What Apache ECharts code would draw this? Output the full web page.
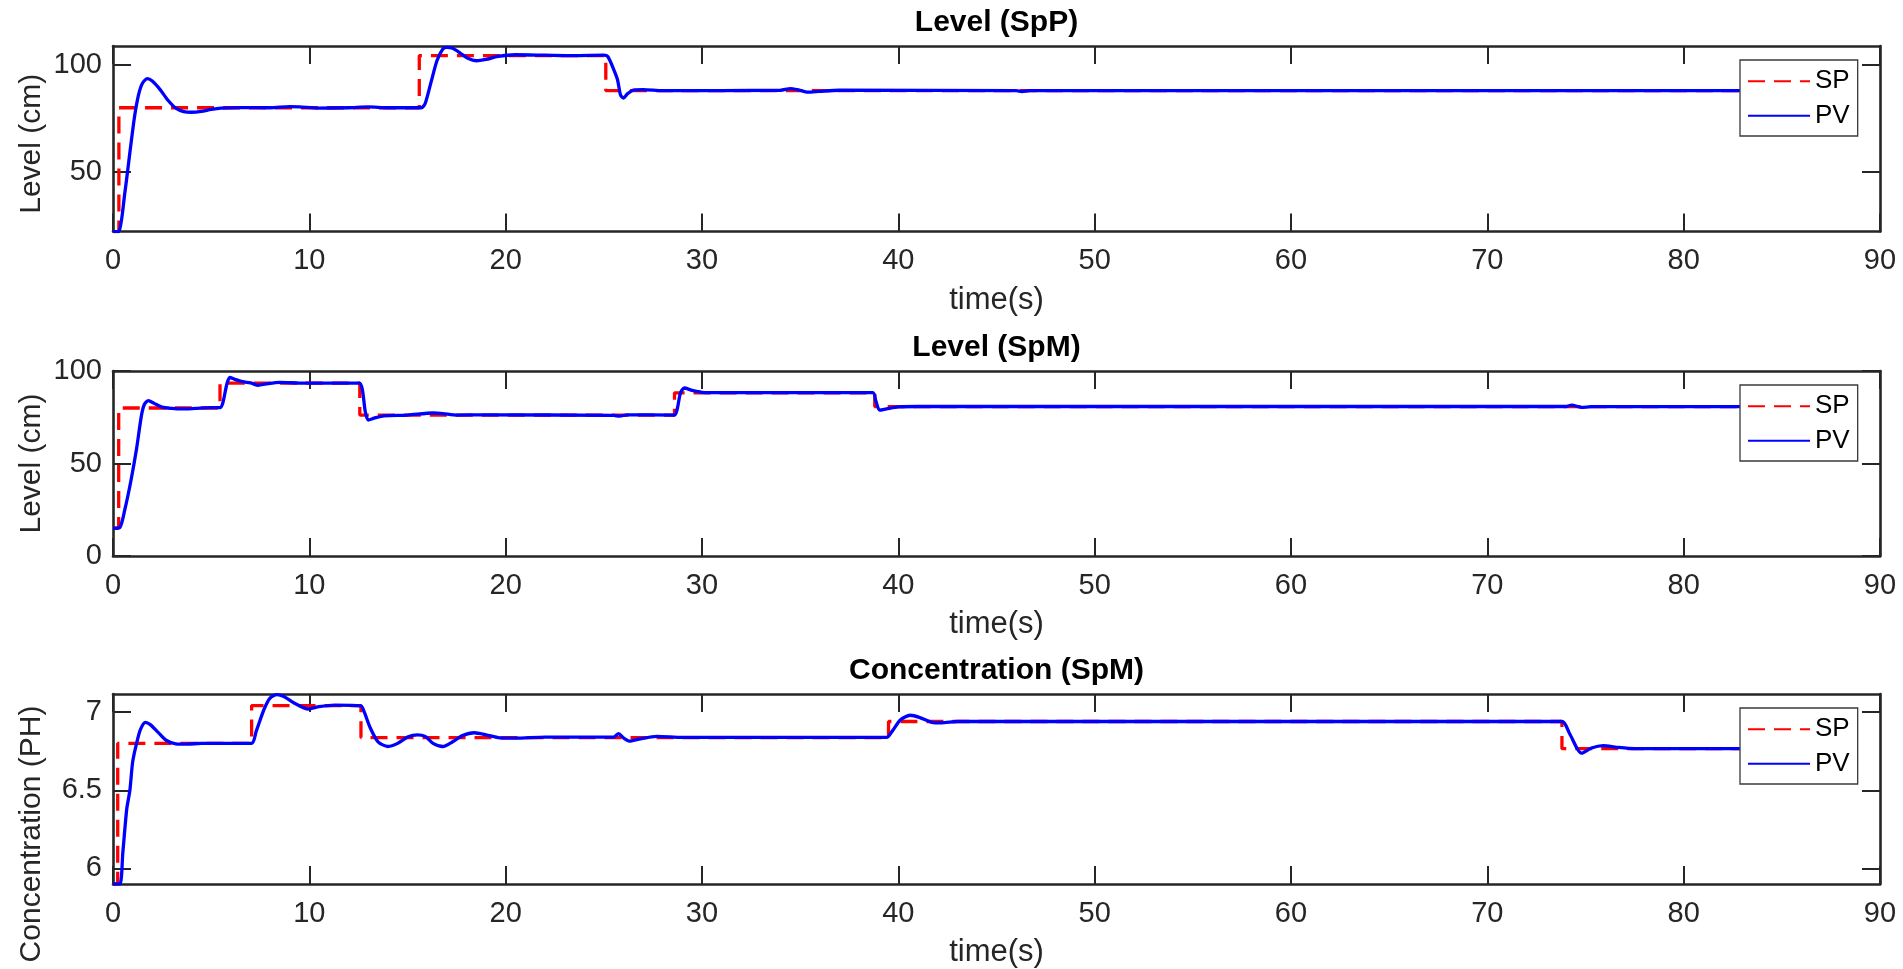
<!DOCTYPE html>
<html>
<head>
<meta charset="utf-8">
<script src="https://cdn.jsdelivr.net/npm/echarts@6/dist/echarts.min.js"></script>
<style>
  html, body { margin: 0; padding: 0; background: #fff; }
  #chart { width: 1903px; height: 969px; }
</style>
</head>
<body>
<div id="chart"></div>
<script>
// ---- Level (SpP) ----
const spTimeSpP  = [0, 0.3, 0.3, 15.6, 15.6, 25.1, 25.1, 85];
const spLevelSpP = [22, 22, 80, 80, 104.4, 104.4, 88, 88];
const pvTimeSpP  = [0, 0.3, 0.6, 0.9, 1.1, 1.3, 1.5, 1.75, 2.0, 2.4, 2.8, 3.2, 3.6, 4.0, 4.5, 5.0, 5.5, 6.5, 8.0, 9.0, 9.5, 10.5, 12.0, 13.0, 14.0, 15.7,
                    15.9, 16.2, 16.5, 16.8, 17.0, 17.3, 17.7, 18.1, 18.5, 19.0, 19.6, 20.5, 22.0, 23.5, 25.0, 25.2, 25.5, 25.7, 25.85, 26.0, 26.2, 26.5,
                    27.0, 28.0, 34.0, 34.5, 34.9, 35.4, 36.0, 37.0, 46.0, 46.3, 46.7, 85];
const pvLevelSpP = [22, 22.2, 40, 62, 76, 86, 91.5, 93.6, 92.5, 88.5, 83.5, 79.8, 78.2, 77.9, 78.3, 79.2, 79.8, 80.1, 80.0, 80.5, 80.4, 79.8, 80.0, 80.4, 80.0, 80.0,
                    82, 92, 102, 107.5, 108.3, 107.8, 105.5, 103.0, 102.0, 102.6, 104.0, 104.8, 104.6, 104.4, 104.6, 104.0, 98, 93, 86, 84.5, 86.5, 88.3,
                    88.5, 88.0, 88.2, 89.0, 88.4, 87.3, 87.7, 88.2, 88.0, 87.6, 88.0, 88];

// ---- Level (SpM) ----
const spTimeSpM  = [0, 0.29, 0.29, 5.45, 5.45, 12.57, 12.57, 28.6, 28.6, 38.8, 38.8, 85];
const spLevelSpM = [15, 15, 80, 80, 93.5, 93.5, 76.2, 76.2, 88.2, 88.2, 80.7, 80.7];
const pvTimeSpM  = [0, 0.35, 0.6, 0.9, 1.2, 1.45, 1.6, 1.8, 2.1, 2.5, 3.0, 3.5, 4.2, 5.0, 5.45, 5.6, 5.8, 5.95, 6.2, 6.6, 7.0, 7.4, 7.8, 8.5, 9.5, 11.0,
                    12.55, 12.7, 12.85, 13.0, 13.3, 13.8, 15.0, 16.3, 16.8, 17.5, 19.0, 25.5, 25.8, 26.2, 28.6, 28.75, 28.9, 29.1, 29.5, 30.0, 31.0,
                    38.7, 38.85, 39.05, 39.4, 40.0, 41, 74.0, 74.3, 74.8, 75.3, 85];
const pvLevelSpM = [15, 15.5, 25, 40, 58, 76, 82, 84, 82.5, 80.5, 79.8, 79.5, 79.8, 80.2, 80.2, 83, 93, 96.5, 95.5, 94.2, 93.6, 92.3, 93.0, 93.8, 93.5, 93.4,
                    93.4, 90, 78, 73.5, 74.5, 75.8, 76.2, 77.3, 77.0, 76.2, 76.3, 76.0, 75.6, 76.3, 76.2, 80, 88, 90.8, 89.5, 88.5, 88.3,
                    88.3, 84, 78.8, 79.5, 80.6, 80.8, 80.8, 81.6, 80.3, 80.7, 80.7];

// ---- Concentration (SpM) ----
const spTimePH  = [0, 0.24, 0.24, 7.06, 7.06, 12.63, 12.63, 39.5, 39.5, 73.8, 73.8, 85];
const spConcPH  = [5.9, 5.9, 6.8, 6.8, 7.042, 7.042, 6.837, 6.837, 6.94, 6.94, 6.766, 6.766];
const pvTimePH  = [0, 0.35, 0.5, 0.7, 0.86, 1.0, 1.2, 1.4, 1.65, 1.9, 2.3, 2.7, 3.2, 3.8, 4.5, 7.05, 7.3, 7.7, 8.0, 8.35, 8.7, 9.2, 9.95, 10.5, 11.3,
                   12.63, 12.8, 13.1, 13.5, 14.0, 14.5, 15.0, 15.5, 15.9, 16.3, 16.8, 17.3, 17.8, 18.4, 19.0, 19.7, 20.5, 22.0, 25.5, 25.75, 26.0,
                   26.3, 26.8, 27.7, 29.0, 39.4, 39.7, 40.1, 40.6, 41.1, 41.7, 42.2, 43.0, 73.8, 74.2, 74.8, 75.3, 75.9, 76.6, 77.5, 85];
const pvConcPH  = [5.9, 5.9, 6.1, 6.38, 6.5, 6.68, 6.8, 6.89, 6.935, 6.92, 6.87, 6.82, 6.797, 6.795, 6.8, 6.8, 6.88, 7.02, 7.09, 7.112, 7.1, 7.06, 7.02, 7.035, 7.045,
                   7.04, 7.0, 6.9, 6.81, 6.78, 6.8, 6.84, 6.855, 6.845, 6.8, 6.78, 6.81, 6.85, 6.868, 6.855, 6.835, 6.833, 6.84, 6.84, 6.862, 6.835,
                   6.815, 6.828, 6.845, 6.838, 6.838, 6.88, 6.95, 6.98, 6.965, 6.935, 6.932, 6.94, 6.94, 6.86, 6.737, 6.77, 6.786, 6.775, 6.766, 6.766];

// ---- axes and labels ----
const titles = ['Level (SpP)', 'Level (SpM)', 'Concentration (SpM)'];
const yNames = ['Level (cm)', 'Level (cm)', 'Concentration (PH)'];
const yRanges = [[22.1, 108.9], [0, 100], [5.9, 7.116]];
const yTicks = [[50, 100], [0, 50, 100], [6, 6.5, 7]];
const xName = 'time(s)';

const zip = (xs, ys) => xs.map((x, i) => [x, ys[i]]);
const panels = [
  { sp: zip(spTimeSpP, spLevelSpP), pv: zip(pvTimeSpP, pvLevelSpP) },
  { sp: zip(spTimeSpM, spLevelSpM), pv: zip(pvTimeSpM, pvLevelSpM) },
  { sp: zip(spTimePH, spConcPH),    pv: zip(pvTimePH, pvConcPH) }
];

const FONT = "'Liberation Sans', Arial, Helvetica, sans-serif";
const INK = '#262626';
const PLOT_LEFT = 113, PLOT_RIGHT = 1880;
const plotTops = [46, 371, 694];
const plotHeights = [185.5, 185, 192];
const yNameShift = [5, 0, 44];   // vertical offset of each y label from its plot centre
const centerX = (PLOT_LEFT + PLOT_RIGHT) / 2;

const grid = [], xAxis = [], yAxis = [], series = [], title = [], legend = [], graphic = [];

const tickStyle = { show: true, inside: true, length: 18, lineStyle: { color: INK, width: 2 } };
const lineStyleAxis = { show: true, onZero: false, lineStyle: { color: INK, width: 2.6 } };

panels.forEach((p, i) => {
  const top = plotTops[i], h = plotHeights[i];
  grid.push({ left: PLOT_LEFT, width: PLOT_RIGHT - PLOT_LEFT, top: top, height: h, containLabel: false });

  // bottom axis with labels
  xAxis.push({
    type: 'value', gridIndex: i, min: 0, max: 90, interval: 10, position: 'bottom',
    axisLine: lineStyleAxis, axisTick: tickStyle, splitLine: { show: false },
    axisLabel: { color: INK, fontFamily: FONT, fontSize: 29, margin: 15 },
    name: xName, nameLocation: 'middle', nameGap: 53,
    nameTextStyle: { color: INK, fontFamily: FONT, fontSize: 31 }
  });
  // top edge of the box, inward ticks only
  xAxis.push({
    type: 'value', gridIndex: i, min: 0, max: 90, interval: 10, position: 'top',
    axisLine: lineStyleAxis, axisTick: tickStyle, splitLine: { show: false },
    axisLabel: { show: false }
  });

  const [ymin, ymax] = yRanges[i];
  yAxis.push({
    type: 'value', gridIndex: i, min: ymin, max: ymax, position: 'left',
    axisLine: lineStyleAxis,
    axisTick: Object.assign({}, tickStyle, { customValues: yTicks[i] }),
    splitLine: { show: false },
    axisLabel: { color: INK, fontFamily: FONT, fontSize: 29, margin: 11, customValues: yTicks[i] }
  });
  yAxis.push({
    type: 'value', gridIndex: i, min: ymin, max: ymax, position: 'right',
    axisLine: lineStyleAxis,
    axisTick: Object.assign({}, tickStyle, { customValues: yTicks[i] }),
    splitLine: { show: false },
    axisLabel: { show: false }
  });

  series.push({
    name: 'SP', type: 'line', xAxisIndex: 2 * i, yAxisIndex: 2 * i,
    data: p.sp, symbol: 'none', silent: true,
    lineStyle: { color: '#ff0000', width: 3.3, type: [17, 9] },
    itemStyle: { color: '#ff0000' }, z: 2
  });
  series.push({
    name: 'PV', type: 'line', xAxisIndex: 2 * i, yAxisIndex: 2 * i,
    data: p.pv, symbol: 'none', silent: true, smooth: 0.25,
    lineStyle: { color: '#0000ff', width: 3.3 },
    itemStyle: { color: '#0000ff' }, z: 3
  });

  title.push({
    text: titles[i], left: centerX, textAlign: 'center', top: top - 38, padding: 0,
    textStyle: { color: '#000', fontFamily: FONT, fontSize: 30, fontWeight: 'bold' }
  });

  legend.push({
    orient: 'vertical', left: 1740, top: top + 14,
    data: ['SP', 'PV'],
    itemWidth: 62, itemHeight: 26, itemGap: 8.6,
    padding: [8.2, 8, 7.2, 7],
    backgroundColor: '#fff', borderColor: '#3a3a3a', borderWidth: 1.3, borderRadius: 0,
    selectedMode: false,
    itemStyle: { color: 'rgba(0,0,0,0)', borderWidth: 0 },
    textStyle: { color: '#000', fontFamily: FONT, fontSize: 26 },
    z: 10
  });

  graphic.push({
    type: 'text', x: 32, y: top + h / 2 + yNameShift[i], rotation: Math.PI / 2, silent: true,
    style: {
      text: yNames[i], fill: INK, font: '30px ' + FONT,
      align: 'center', verticalAlign: 'middle'
    }
  });
});

const chart = echarts.init(document.getElementById('chart'), null, { renderer: 'canvas' });
chart.setOption({
  backgroundColor: '#fff',
  animation: false,
  title, grid, xAxis, yAxis, series, legend, graphic
});
</script>
</body>
</html>
